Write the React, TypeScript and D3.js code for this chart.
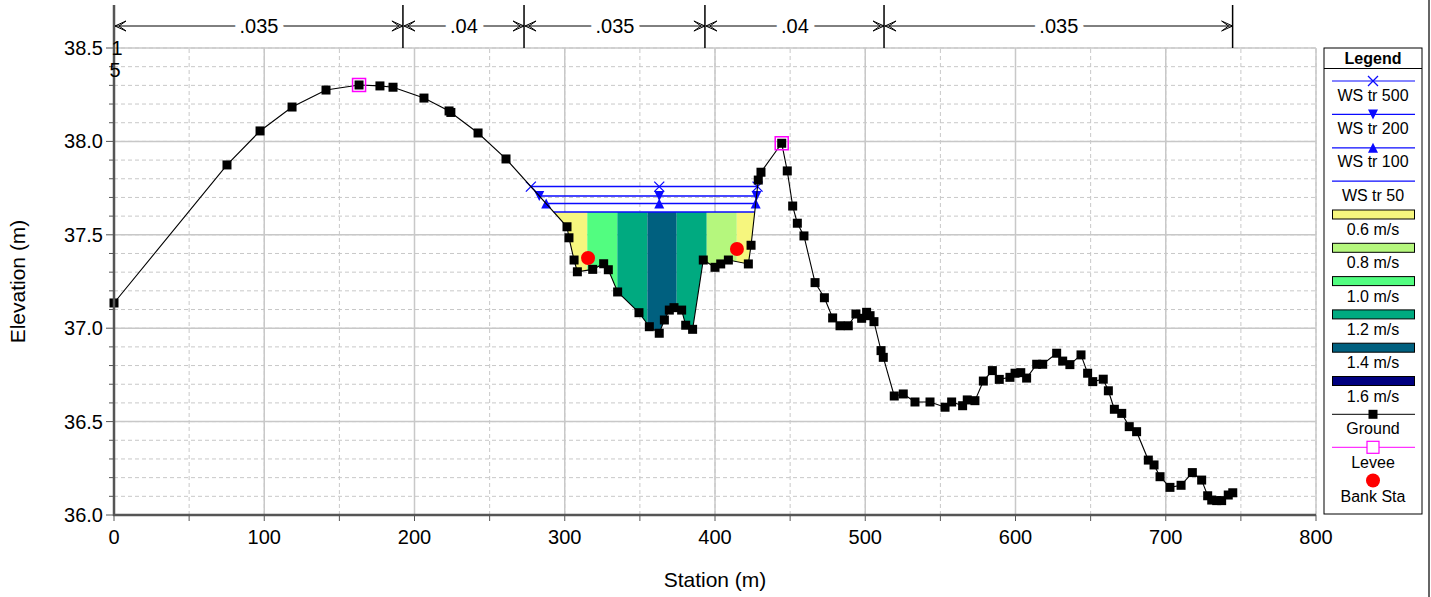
import React from "react";
import * as d3 from "d3";

// ---------- DATA ----------
const groundSta = [0, 75.2, 97.2, 118.5, 141.1, 163.1, 177, 185.7, 206.3, 223, 224.2, 242.3, 260.9, 301.5, 302.8, 306.2, 308.4, 318.6, 325.9, 329, 335.2, 349.4, 356.3, 362.9, 366.3, 369.6, 372.7, 377.8, 380.5, 385.1, 392.2, 400, 403.8, 408.9, 422.2, 424, 428.8, 430.6, 444.4, 448.1, 451.7, 454.8, 459.2, 466.6, 472.8, 478.3, 483.2, 488.7, 493.8, 497.6, 500.9, 503.2, 505.8, 510.5, 512, 519.3, 525.3, 533.1, 543.1, 553.1, 557.5, 564.8, 567.9, 573, 578.6, 584.6, 589.2, 596.3, 599.7, 603.5, 607.4, 614.1, 618.1, 627.4, 631.4, 636.2, 643.6, 648, 651.4, 658.4, 661.8, 665.8, 670.7, 675.7, 680.6, 688.4, 692.2, 696.2, 702.8, 710.2, 717.7, 723.9, 727.9, 730.6, 733.9, 737.2, 741.6, 744.6];
const groundElev = [37.135, 37.874, 38.056, 38.184, 38.275, 38.302, 38.297, 38.29, 38.232, 38.163, 38.155, 38.045, 37.906, 37.543, 37.484, 37.365, 37.302, 37.315, 37.345, 37.313, 37.194, 37.083, 37.008, 36.973, 37.044, 37.097, 37.11, 37.097, 37.016, 36.994, 37.365, 37.326, 37.344, 37.365, 37.344, 37.444, 37.793, 37.835, 37.99, 37.842, 37.654, 37.562, 37.494, 37.244, 37.163, 37.055, 37.013, 37.013, 37.076, 37.053, 37.085, 37.067, 37.035, 36.88, 36.844, 36.637, 36.648, 36.605, 36.605, 36.577, 36.605, 36.585, 36.616, 36.612, 36.717, 36.773, 36.726, 36.737, 36.759, 36.762, 36.733, 36.807, 36.807, 36.866, 36.824, 36.805, 36.857, 36.759, 36.714, 36.727, 36.665, 36.566, 36.544, 36.473, 36.446, 36.294, 36.268, 36.205, 36.148, 36.159, 36.227, 36.187, 36.103, 36.08, 36.077, 36.077, 36.107, 36.119];

const leveeSta = [163.1, 444.4];
const leveeElev = [38.302, 37.99];
const bankSta = [315.5, 414.6];
const bankElev = [37.376, 37.424];

const wsNames = ["WS tr 500", "WS tr 200", "WS tr 100", "WS tr 50"];
const wsElev = [37.758, 37.708, 37.667, 37.622];
const wsMarker = ["x", "down", "up", "none"];

const velEdges = [280, 315, 335, 355, 374.5, 394.5, 414.5, 440];
const velValues = [0.6, 1.0, 1.2, 1.4, 1.2, 0.8, 0.6];
const velLegend = [0.6, 0.8, 1.0, 1.2, 1.4, 1.6];
const velColors = ["#f6f67e", "#b5f77d", "#52fd80", "#00aa80", "#00607f", "#000080"];

const nStations = [0, 192.3, 272.9, 393.3, 512.5, 744.5];
const nValues = [".035", ".04", ".035", ".04", ".035"];

const xTicks = [0, 100, 200, 300, 400, 500, 600, 700, 800];
const yTicks = [36.0, 36.5, 37.0, 37.5, 38.0, 38.5];

// ---------- LAYOUT ----------
const W = 1431, H = 597;
const x = d3.scaleLinear().domain([0, 800]).range([114, 1316]);
const y = d3.scaleLinear().domain([36, 38.5]).range([515, 48]);
const FONT = "Arial, 'Liberation Sans', sans-serif";
const BLUE = "#0a0aff";

function crossings(elev: number): [number, number] {
  let iMin = -1;
  for (let i = 0; i < groundSta.length; i++) {
    if (groundSta[i] > leveeSta[0] && groundSta[i] < leveeSta[1]) {
      if (iMin < 0 || groundElev[i] < groundElev[iMin]) iMin = i;
    }
  }
  let l = iMin;
  while (l > 0 && groundElev[l - 1] < elev) l--;
  let r = iMin;
  while (r < groundSta.length - 1 && groundElev[r + 1] < elev) r++;
  const interp = (i: number, j: number) => {
    const t = (elev - groundElev[i]) / (groundElev[j] - groundElev[i]);
    return groundSta[i] + t * (groundSta[j] - groundSta[i]);
  };
  return [interp(l, l - 1), interp(r, r + 1)];
}

function thalweg(): number {
  let iMin = -1;
  for (let i = 0; i < groundSta.length; i++) {
    if (groundSta[i] > leveeSta[0] && groundSta[i] < leveeSta[1]) {
      if (iMin < 0 || groundElev[i] < groundElev[iMin]) iMin = i;
    }
  }
  return groundSta[iMin];
}

function Marker({ kind, cx, cy, color }: { kind: string; cx: number; cy: number; color: string }) {
  const s = 5;
  if (kind === "x")
    return (
      <path d={`M${cx - s},${cy - s}L${cx + s},${cy + s}M${cx - s},${cy + s}L${cx + s},${cy - s}`} stroke={color} strokeWidth={1.3} fill="none" />
    );
  if (kind === "down")
    return <path d={`M${cx - s},${cy - s}L${cx + s},${cy - s}L${cx},${cy + s}Z`} fill={color} />;
  if (kind === "up")
    return <path d={`M${cx - s},${cy + s}L${cx + s},${cy + s}L${cx},${cy - s}Z`} fill={color} />;
  return null;
}

export default function App() {
  const ground = groundSta.map((s, i) => [s, groundElev[i]] as [number, number]);
  const line = d3.line<[number, number]>().x((d) => x(d[0])).y((d) => y(d[1]));

  const wsLow = wsElev[wsElev.length - 1];
  const [wl, wr] = crossings(wsLow);
  const inner = ground.filter((d) => d[0] > wl && d[0] < wr);
  const waterPoly: [number, number][] = [[wl, wsLow], ...inner, [wr, wsLow]];
  const tw = thalweg();

  const minorY = d3.range(36, 38.5001, 0.1);
  const minorX = d3.range(0, 800.001, 50);

  const legendX0 = 1324, legendX1 = 1422;
  const lx = (legendX0 + legendX1) / 2;
  const LF = 16;

  return (
    <svg width={W} height={H} style={{ position: "absolute", left: 0, top: 0, background: "#fff" }} fontFamily={FONT}>
      <defs>
        <clipPath id="water">
          <path d={line(waterPoly) + "Z"} />
        </clipPath>
      </defs>
      <rect x={0} y={0} width={W} height={H} fill="#fff" />

      {/* minor grid */}
      {minorY.map((v, i) => (
        <line key={"my" + i} x1={x(0)} x2={x(800)} y1={y(v)} y2={y(v)} stroke="#c8c8c8" strokeDasharray="4,3" strokeWidth={1} />
      ))}
      {minorX.map((v, i) => (
        <line key={"mx" + i} x1={x(v)} x2={x(v)} y1={y(36)} y2={y(38.5)} stroke="#c8c8c8" strokeDasharray="4,3" strokeWidth={1} />
      ))}
      {/* major grid */}
      {yTicks.map((v, i) => (
        <line key={"gy" + i} x1={x(0)} x2={x(800)} y1={y(v)} y2={y(v)} stroke="#c8c8c8" strokeWidth={1.5} />
      ))}
      {xTicks.map((v, i) => (
        <line key={"gx" + i} x1={x(v)} x2={x(v)} y1={y(36)} y2={y(38.5)} stroke="#c8c8c8" strokeWidth={1.5} />
      ))}

      {/* velocity bands */}
      <g clipPath="url(#water)">
        {velValues.map((v, i) => (
          <rect
            key={"vb" + i}
            x={x(velEdges[i])}
            width={x(velEdges[i + 1]) - x(velEdges[i])}
            y={y(wsLow) - 1}
            height={y(36) - y(wsLow)}
            fill={velColors[velLegend.indexOf(v)]}
          />
        ))}
      </g>

      {/* water surfaces */}
      {wsElev.map((e, i) => {
        const [a, b] = crossings(e);
        return (
          <g key={"ws" + i}>
            <line x1={x(a)} x2={x(b)} y1={y(e)} y2={y(e)} stroke={BLUE} strokeWidth={1.5} />
            {[a, tw, b].map((s, k) => (
              <Marker key={k} kind={wsMarker[i]} cx={x(s)} cy={y(e)} color={BLUE} />
            ))}
          </g>
        );
      })}

      {/* ground */}
      <path d={line(ground) ?? ""} fill="none" stroke="#000" strokeWidth={1.1} />
      {ground.map((d, i) => (
        <rect key={"gp" + i} x={x(d[0]) - 4.5} y={y(d[1]) - 4.5} width={9} height={9} fill="#000" />
      ))}

      {/* levees */}
      {leveeSta.map((s, i) => (
        <rect key={"lv" + i} x={x(s) - 6.5} y={y(leveeElev[i]) - 6.5} width={13} height={13} fill="none" stroke="#ff00ff" strokeWidth={1.5} />
      ))}
      {/* bank stations */}
      {bankSta.map((s, i) => (
        <circle key={"bs" + i} cx={x(s)} cy={y(bankElev[i])} r={7} fill="#ff0000" />
      ))}

      {/* axes */}
      <line x1={x(0)} x2={x(0)} y1={5} y2={y(36) + 1} stroke="#555" strokeWidth={2.5} />
      <line x1={x(0) - 1} x2={x(800)} y1={y(36)} y2={y(36)} stroke="#555" strokeWidth={2.5} />
      {minorY.map((v, i) => (
        <line key={"ty" + i} x1={x(0) - (Math.abs((v * 2) % 1) < 0.01 || Math.abs((v * 2) % 1) > 0.99 ? 8 : 5)} x2={x(0)} y1={y(v)} y2={y(v)} stroke="#555" strokeWidth={1} />
      ))}
      {minorX.map((v, i) => (
        <line key={"tx" + i} x1={x(v)} x2={x(v)} y1={y(36)} y2={y(36) + 6} stroke="#555" strokeWidth={1} />
      ))}
      {yTicks.map((v, i) => (
        <text key={"yl" + i} x={x(0) - 11} y={y(v)} dy="0.35em" textAnchor="end" fontSize={20} fill="#000">
          {d3.format(".1f")(v)}
        </text>
      ))}
      {xTicks.map((v, i) => (
        <text key={"xl" + i} x={x(v)} y={y(36) + 29} textAnchor="middle" fontSize={20} fill="#000">
          {v}
        </text>
      ))}
      <text x={x(0) + 3} y={y(38.5)} dy="0.35em" textAnchor="middle" fontSize={20}>1</text>
      <text x={x(0) + 1} y={y(38.5) + 22} dy="0.35em" textAnchor="middle" fontSize={20}>5</text>
      <text x={(x(0) + x(800)) / 2} y={587} textAnchor="middle" fontSize={21}>Station (m)</text>
      <text transform={`translate(25,${(y(36) + y(38.5)) / 2}) rotate(-90)`} textAnchor="middle" fontSize={21}>Elevation (m)</text>

      {/* Manning's n */}
      {nStations.map((s, i) =>
        i === 0 ? null : <line key={"nb" + i} x1={x(s)} x2={x(s)} y1={5} y2={y(38.5)} stroke="#000" strokeWidth={1.5} />
      )}
      {nValues.map((n, i) => {
        const a = x(nStations[i]) + 1;
        const b = x(nStations[i + 1]);
        const yy = 26;
        return (
          <g key={"n" + i}>
            <line x1={a} x2={b} y1={yy} y2={yy} stroke="#000" strokeWidth={1} />
            <path d={`M${a + 11},${yy - 5}L${a},${yy}L${a + 11},${yy + 5}M${a + 11},${yy - 5}L${a + 4},${yy}L${a + 11},${yy + 5}`} fill="none" stroke="#000" strokeWidth={1} />
            <path d={`M${b - 11},${yy - 5}L${b},${yy}L${b - 11},${yy + 5}M${b - 11},${yy - 5}L${b - 4},${yy}L${b - 11},${yy + 5}`} fill="none" stroke="#000" strokeWidth={1} />
            <text x={(a + b) / 2} y={yy} dy="0.35em" textAnchor="middle" fontSize={20} stroke="#fff" strokeWidth={12} paintOrder="stroke" fill="#000">
              {n}
            </text>
          </g>
        );
      })}

      {/* legend */}
      <rect x={legendX0} y={48} width={legendX1 - legendX0} height={466} fill="#fff" stroke="#000" strokeWidth={1} />
      <line x1={legendX0} x2={legendX1} y1={68.5} y2={68.5} stroke="#000" strokeWidth={1} />
      <text x={lx} y={58.5} dy="0.35em" textAnchor="middle" fontSize={LF} fontWeight="bold">Legend</text>
      {wsNames.map((n, i) => {
        const ly = 81 + i * 33.4;
        return (
          <g key={"lw" + i}>
            <line x1={1332} x2={1415} y1={ly} y2={ly} stroke={BLUE} strokeWidth={1.2} />
            <Marker kind={wsMarker[i]} cx={lx} cy={ly} color={BLUE} />
            <text x={lx} y={ly + 14} dy="0.35em" textAnchor="middle" fontSize={LF}>{n}</text>
          </g>
        );
      })}
      {velLegend.map((v, i) => {
        const ry = 210 + i * 33.3;
        return (
          <g key={"lvl" + i}>
            <rect x={1332.5} y={ry} width={82} height={9} fill={velColors[i]} stroke="#000" strokeWidth={1} />
            <text x={lx} y={ry + 19.5} dy="0.35em" textAnchor="middle" fontSize={LF}>{d3.format(".1f")(v)} m/s</text>
          </g>
        );
      })}
      <line x1={1332} x2={1415} y1={414.3} y2={414.3} stroke="#000" strokeWidth={1} />
      <rect x={lx - 4.5} y={414.3 - 4.5} width={9} height={9} fill="#000" />
      <text x={lx} y={428.5} dy="0.35em" textAnchor="middle" fontSize={LF}>Ground</text>
      <line x1={1332} x2={1415} y1={447.3} y2={447.3} stroke="#ff00ff" strokeWidth={1} />
      <rect x={lx - 6} y={447.3 - 6} width={12} height={12} fill="#fff" stroke="#ff00ff" strokeWidth={1.2} />
      <text x={lx} y={462} dy="0.35em" textAnchor="middle" fontSize={LF}>Levee</text>
      <circle cx={lx} cy={480.5} r={7} fill="#ff0000" />
      <text x={lx} y={496} dy="0.35em" textAnchor="middle" fontSize={LF}>Bank Sta</text>

      {/* right frame edge */}
      <line x1={1429} x2={1429} y1={0} y2={H} stroke="#333" strokeWidth={1.5} />
    </svg>
  );
}
